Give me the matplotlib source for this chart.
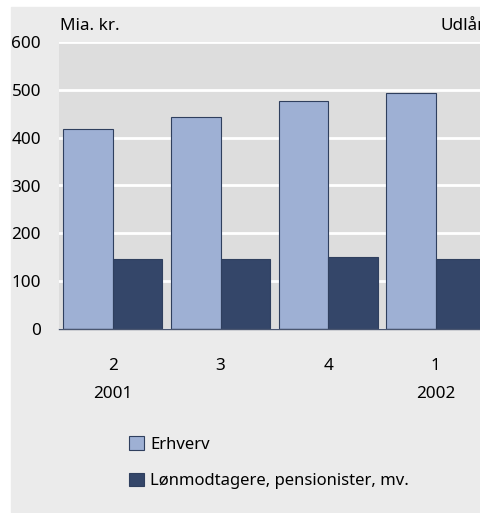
import numpy as np
import matplotlib.pyplot as plt
from matplotlib.patches import Rectangle

plt.rcParams['font.family'] = ['Noto Sans', 'DejaVu Sans']

quarters = ["2", "3", "4", "1"]
years = ["2001", "", "", "2002"]
erhverv = [419, 443, 477, 493]
loenmodt = [146, 146, 150, 146]

W, H = 480, 513
fig = plt.figure(figsize=(W / 100, H / 100), dpi=100)
fig.patch.set_facecolor("white")
# outer grey panel
fig.patches.append(Rectangle((11 / W, 1 / H), 1 - 11 / W, (H - 8) / H,
                             transform=fig.transFigure, color="#ebebeb", zorder=-10))

ax = fig.add_axes([59 / W, 184 / H, (W - 59) / W, 287 / H])
ax.set_facecolor("#dddddd")

x = np.arange(len(quarters))
w = 0.46
ax.bar(x - w / 2, erhverv, w, color="#9eb0d4", edgecolor="#2f3f5e", linewidth=0.8,
       label="Erhverv", zorder=3)
ax.bar(x + w / 2, loenmodt, w, color="#344669", edgecolor="#2f3f5e", linewidth=0.8,
       label="Lønmodtagere, pensionister, mv.", zorder=3)

ax.set_xlim(-0.5, 3.41)
ax.set_ylim(0, 600)
ax.set_yticks(np.arange(0, 601, 100))
ax.yaxis.grid(True, color="white", linewidth=2)
ax.set_axisbelow(True)
for s in ["top", "right", "left"]:
    ax.spines[s].set_visible(False)
ax.spines["bottom"].set_color("#4a5670")
ax.spines["bottom"].set_linewidth(1)
ax.spines["bottom"].set_zorder(4)

ax.set_xticks(x)
ax.set_xticklabels([f"{q}\n{y}" for q, y in zip(quarters, years)], linespacing=1.95)
ax.tick_params(axis="both", length=0, labelsize=12.3)
ax.tick_params(axis="x", pad=21)
ax.tick_params(axis="y", pad=13)

fig.text(60 / W, 1 - 26 / H, "Mia. kr.", fontsize=12.3, va="center")
fig.text(440 / W, 1 - 26 / H, "Udlån", fontsize=12.3, va="center")

ax.legend(loc="upper left", bbox_to_anchor=(121 / W, 1 - 428 / H),
          bbox_transform=fig.transFigure, frameon=False, fontsize=12,
          handlelength=0.85, handleheight=0.85, handletextpad=0.4,
          labelspacing=1.2, borderpad=0)

fig.savefig("out.png", dpi=100)
